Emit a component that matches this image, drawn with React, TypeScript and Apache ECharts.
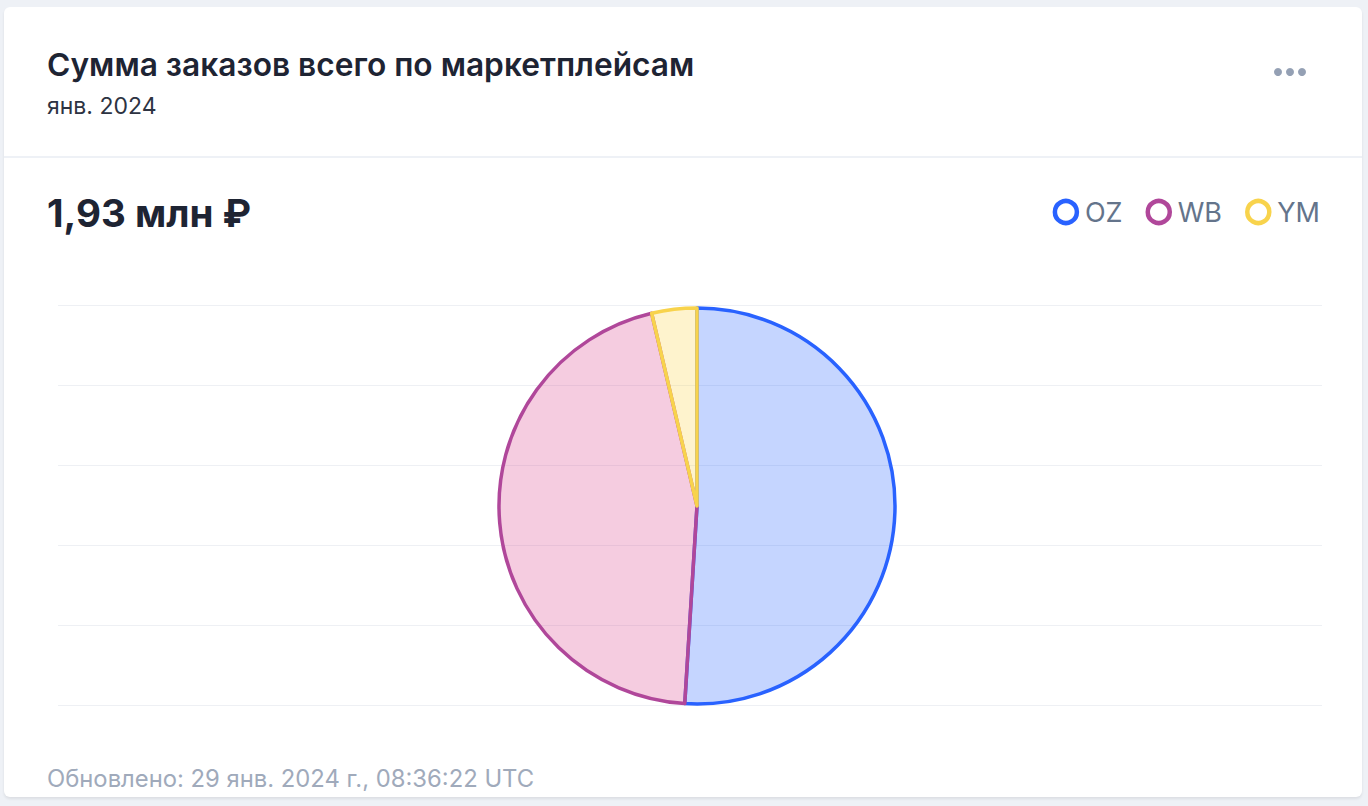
import React, { useEffect, useRef } from "react";
import * as echarts from "echarts";

const categories = ["OZ", "WB", "YM"];
const values = [984000, 875000, 71000];
const strokeColors = ["#2962ff", "#b0479a", "#f8d34c"];
const fillColors = ["rgba(41,98,255,0.27)", "rgba(214,51,132,0.25)", "rgba(250,212,74,0.28)"];
const gridTicks = [0, 1, 2, 3, 4, 5];

const titleText = "Сумма заказов всего по маркетплейсам";
const subtitleText = "янв. 2024";
const totalText = "1,93 млн ₽";
const footerText = "Обновлено: 29 янв. 2024 г., 08:36:22 UTC";

const FONT = "Inter, 'Noto Sans', sans-serif";

export default function App() {
  const ref = useRef<HTMLDivElement>(null);
  useEffect(() => {
    document.body.style.margin = "0";
    const chart = echarts.init(ref.current!, null, { renderer: "svg" });
    chart.setOption({
      animation: false,
      backgroundColor: "transparent",
      grid: { left: 58, right: 46, top: 305, bottom: 101 },
      xAxis: { type: "value", show: false, min: 0, max: 1 },
      yAxis: {
        type: "value",
        min: gridTicks[0],
        max: gridTicks[gridTicks.length - 1],
        interval: 1,
        axisLabel: { show: false },
        axisLine: { show: false },
        axisTick: { show: false },
        splitLine: { show: true, lineStyle: { color: "#eef0f4", width: 1 } },
      },
      legend: {
        right: 48,
        top: 198.5,
        padding: 0,
        itemWidth: 22,
        itemHeight: 22,
        itemGap: 23,
        icon: "circle",
        textStyle: { fontFamily: FONT, fontSize: 27, color: "#64748b", padding: [0, 0, 0, 3] },
        data: categories.map((c, i) => ({
          name: c,
          itemStyle: { color: "#fff", borderColor: strokeColors[i], borderWidth: 4.5 },
        })),
      },
      graphic: [
        { type: "line", shape: { x1: 4, y1: 157, x2: 1362, y2: 157 }, style: { stroke: "#eef1f6", lineWidth: 2 } },
        { type: "text", left: 47, top: 48, style: { text: titleText, font: `600 31.7px ${FONT}`, fill: "#1e2433" } },
        { type: "text", left: 47, top: 94, style: { text: subtitleText, font: `400 23px ${FONT}`, fill: "#2d3342" } },
        { type: "text", left: 47, top: 193, style: { text: totalText, font: `700 38.5px ${FONT}`, fill: "#1e2433" } },
        { type: "text", left: 47, top: 766, style: { text: footerText, font: `400 23.8px ${FONT}`, fill: "#a0aabb" } },
        { type: "circle", shape: { cx: 1278, cy: 72, r: 4 }, style: { fill: "#94a0b4" } },
        { type: "circle", shape: { cx: 1290, cy: 72, r: 4 }, style: { fill: "#94a0b4" } },
        { type: "circle", shape: { cx: 1302, cy: 72, r: 4 }, style: { fill: "#94a0b4" } },
      ],
      series: [
        { type: "line", data: [], silent: true },
        {
          type: "pie",
          center: [697, 506],
          radius: 198,
          startAngle: 90,
          clockwise: true,
          label: { show: false },
          labelLine: { show: false },
          emphasis: { disabled: true },
          data: categories.map((c, i) => ({
            name: c,
            value: values[i],
            itemStyle: { color: fillColors[i], borderColor: strokeColors[i], borderWidth: 3.5 },
          })),
        },
      ],
    });
    return () => chart.dispose();
  }, []);
  return (
    <div style={{ position: "fixed", left: 0, top: 0, width: 1368, height: 806, background: "#eef1f6" }}>
      <div
        style={{
          position: "absolute",
          left: 4,
          top: 7,
          width: 1358,
          height: 790,
          background: "#fff",
          borderRadius: 6,
          boxShadow: "0 2px 3px rgba(0,0,0,0.08)",
        }}
      />
      <div ref={ref} style={{ position: "absolute", left: 0, top: 0, width: 1368, height: 806 }} />
    </div>
  );
}
